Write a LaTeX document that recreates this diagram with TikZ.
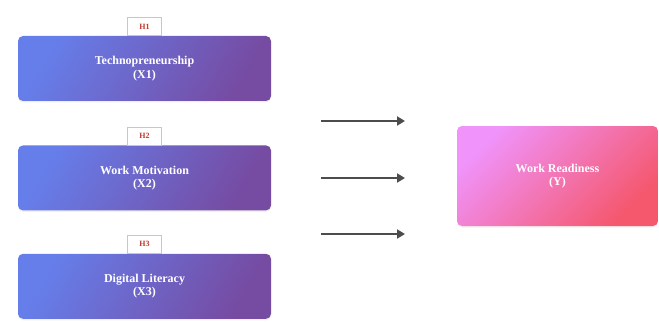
\documentclass[tikz,border=0pt]{standalone}
\usepackage{fontspec}
\setmainfont{Liberation Serif}
\usetikzlibrary{positioning}
\usetikzlibrary{shadows}
\usetikzlibrary{arrows.meta}
\definecolor{indigo}{HTML}{667EEA}
\definecolor{violet}{HTML}{764BA2}
\definecolor{orchid}{HTML}{F093FB}
\definecolor{coral}{HTML}{F5576C}
\definecolor{hred}{HTML}{C0392B}
\tikzset{
	factor/.style={rectangle, rounded corners=5pt, minimum width=253pt, minimum height=65pt,
		left color=indigo, right color=violet, shading angle=60, text=white, align=center,
		font=\fontsize{12}{13.5}\selectfont\bfseries,
		drop shadow={opacity=0.12, shadow xshift=0pt, shadow yshift=-1.5pt}},
	outcome/.style={factor, minimum width=201pt, minimum height=100pt,
		left color=orchid, right color=coral, shading angle=45},
	hyp/.style={rectangle, draw=hred!35, line width=0.5pt, fill=white, text=hred,
		minimum width=34pt, minimum height=18pt, inner sep=1pt,
		font=\fontsize{8}{9}\selectfont\bfseries},
	path/.style={draw=black!70, line width=1.8pt, -{Triangle[length=8pt,width=9pt]}}
}
\begin{document}
\begin{tikzpicture}[x=1pt, y=1pt]
\useasboundingbox (0,0) rectangle (659,322);

\node[factor](tech) at (144.5,253.5){Technopreneurship\\(X1)};
\node[factor, below=44pt of tech](motiv){Work Motivation\\(X2)};
\node[factor, below=43pt of motiv](digit){Digital Literacy\\(X3)};

\node[hyp, above=0pt of tech](h1){H1};
\node[hyp, above=0pt of motiv](h2){H2};
\node[hyp, above=0pt of digit](h3){H3};

\node[outcome](ready) at (557.5,146){Work Readiness\\(Y)};

\coordinate (s1) at (321,201);
\coordinate (e1) at (405,201);
\coordinate (s2) at (321,144);
\coordinate (e2) at (405,144);
\coordinate (s3) at (321,88);
\coordinate (e3) at (405,88);

\draw[path] (s1) -- (e1);
\draw[path] (s2) -- (e2);
\draw[path] (s3) -- (e3);
\end{tikzpicture}
\end{document}
